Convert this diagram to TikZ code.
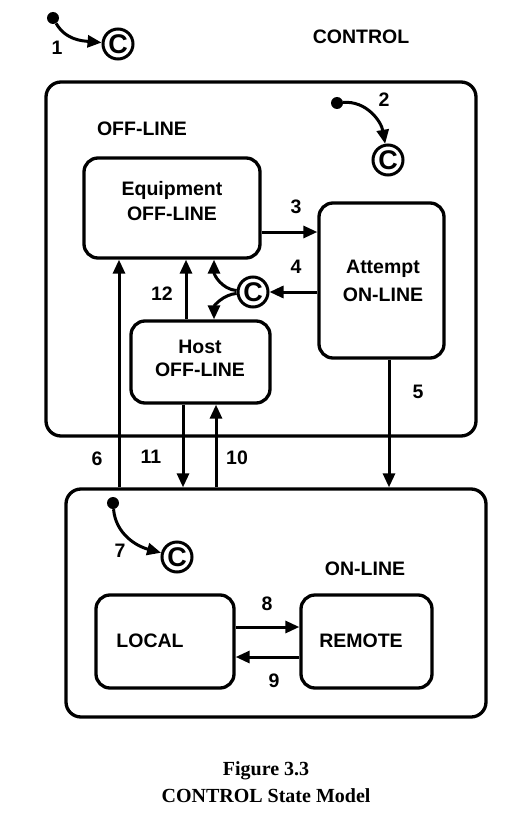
\documentclass[tikz,border=0pt]{standalone}
\usepackage{fontspec}
\setmainfont{Liberation Serif}
\setsansfont{Liberation Sans}
\usetikzlibrary{arrows.meta}
\begin{document}
\begin{tikzpicture}[x=1pt,y=-1pt,
  lbl/.style={font=\sffamily\bfseries\fontsize{19.5}{22}\selectfont, inner sep=0pt},
  boxtext/.style={align=center, inner sep=0pt, font=\sffamily\bfseries\fontsize{19.5}{25}\selectfont},
  bigbox/.style={draw, line width=3.3pt, rounded corners=15pt, inner sep=0pt},
  statebox/.style={draw, line width=3.3pt, rounded corners=14pt, inner sep=0pt, align=center,
     font=\sffamily\bfseries\fontsize{19.5}{26}\selectfont},
  cnode/.style={draw, circle, line width=3pt, minimum size=30pt, inner sep=0pt,
     font=\sffamily\bfseries\fontsize{27}{27}\selectfont},
  dotnode/.style={fill, circle, minimum size=12pt, inner sep=0pt},
  arr/.style={line width=3pt, -{Triangle[length=14pt,width=12pt]}},
  captext/.style={font=\rmfamily\bfseries\fontsize{20}{24}\selectfont, inner sep=0pt}
]
\useasboundingbox (0,0) rectangle (504,824);

% big boxes
\node[bigbox, minimum width=430pt, minimum height=354pt] (offline) at (261,259) {};
\node[bigbox, minimum width=420pt, minimum height=228pt] (online) at (276,603) {};

% state boxes
\node[statebox, minimum width=176pt, minimum height=100pt] (equip) at (172,208) {};
\node[boxtext] (equipT) at (172,201.5) {Equipment\\OFF-LINE};
\node[statebox, minimum width=125pt, minimum height=155pt] (attempt) at (381.5,280.5) {};
\node[boxtext, font=\sffamily\bfseries\fontsize{19.5}{28}\selectfont] (attemptT) at (383,281) {Attempt\\ON-LINE};
\node[statebox, minimum width=139pt, minimum height=82pt] (host) at (200.5,362) {};
\node[boxtext, font=\sffamily\bfseries\fontsize{19.5}{23}\selectfont] (hostT) at (200,358.5) {Host\\OFF-LINE};
\node[statebox, minimum width=138pt, minimum height=93pt] (local) at (165,641.5) {};
\node[boxtext] (localT) at (150,641) {LOCAL};
\node[statebox, minimum width=131pt, minimum height=93pt] (remote) at (366.5,641.5) {};
\node[boxtext] (remoteT) at (361,641) {REMOTE};

% titles
\node[lbl] (tcontrol) at (361,37) {CONTROL};
\node[lbl] (toffline) at (142,129) {OFF-LINE};
\node[lbl] (tonline) at (365,569) {ON-LINE};

% C junctions and initial dots
\node[cnode] (c1) at (118,44) {C};
\node[dotnode] (d1) at (53,18) {};
\node[cnode] (c2) at (388,160) {C};
\node[dotnode] (d2) at (337,103) {};
\node[cnode] (cj) at (253,292) {C};
\node[cnode] (c7) at (177,557) {C};
\node[dotnode] (d7) at (113,503) {};

\draw[arr] (d1) to[out=-60,in=175] (c1);
\draw[arr] (d2) to[out=5,in=100] (c2);
\draw[arr] (d7) to[out=-85,in=165] (c7);

% x positions
\coordinate (x6) at (119,0);
\coordinate (x12) at (186,0);
\coordinate (xc) at (214,0);
\coordinate (x11) at (183,0);
\coordinate (x10) at (216,0);
\coordinate (x5) at (389,0);
\coordinate (y3) at (0,232);
\coordinate (y4) at (0,292);
\coordinate (y8) at (0,627);
\coordinate (y9) at (0,657);

% transitions
\draw[arr] (equip.east |- y3) -- (attempt.west |- y3);
\draw[arr] (attempt.west |- y4) -- (cj.east);
\draw[arr] (cj.175) to[out=175,in=-90] (equip.south -| xc);
\draw[arr] (cj.185) to[out=185,in=90] (host.north -| xc);
\draw[arr] (host.north -| x12) -- (equip.south -| x12);
\draw[arr] (online.north -| x6) -- (equip.south -| x6);
\draw[arr] (host.south -| x11) -- (online.north -| x11);
\draw[arr] (online.north -| x10) -- (host.south -| x10);
\draw[arr] (attempt.south -| x5) -- (online.north -| x5);
\draw[arr] (local.east |- y8) -- (remote.west |- y8);
\draw[arr] (remote.west |- y9) -- (local.east |- y9);

% numbers
\node[lbl] (n1) at (57,48) {1};
\node[lbl] (n2) at (384,100) {2};
\node[lbl] (n3) at (296,207) {3};
\node[lbl] (n4) at (296,267) {4};
\node[lbl] (n5) at (418,392) {5};
\node[lbl] (n6) at (97,459) {6};
\node[lbl] (n7) at (120,551) {7};
\node[lbl] (n8) at (267,604) {8};
\node[lbl] (n9) at (274,681) {9};
\node[lbl] (n10) at (237,458) {10};
\node[lbl] (n11) at (151,457) {11};
\node[lbl] (n12) at (162,294) {12};

% caption
\node[captext] (cap1) at (266,771) {Figure 3.3};
\node[captext] (cap2) at (266,796) {CONTROL State Model};
\end{tikzpicture}
\end{document}
